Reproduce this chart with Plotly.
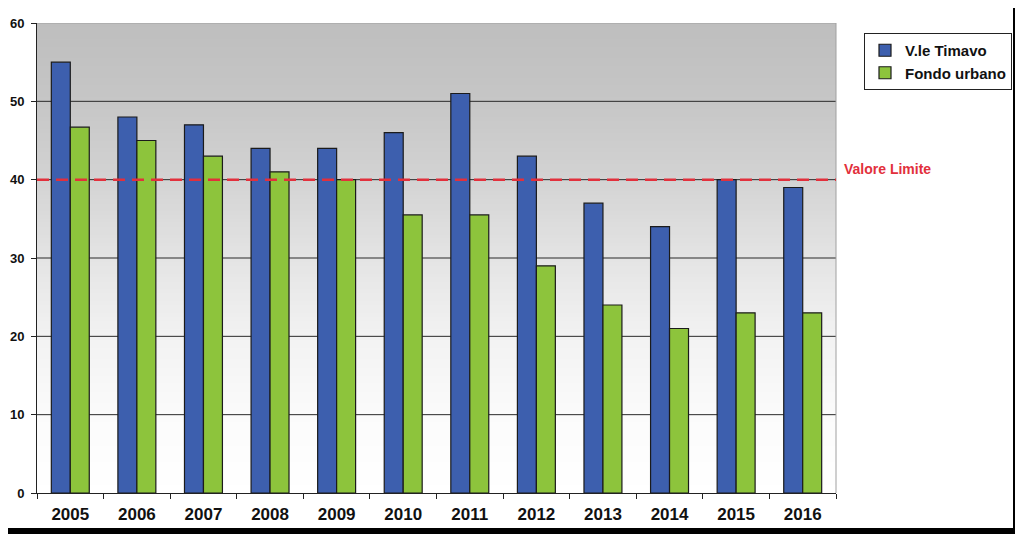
import plotly.graph_objects as go

years = ["2005", "2006", "2007", "2008", "2009", "2010", "2011", "2012", "2013", "2014", "2015", "2016"]
timavo = [55, 48, 47, 44, 44, 46, 51, 43, 37, 34, 40, 39]
fondo = [46.7, 45, 43, 41, 40, 35.5, 35.5, 29, 24, 21, 23, 23]
limite = 40
y_ticks = [0, 10, 20, 30, 40, 50, 60]

FONT = "Arial, 'Liberation Sans', sans-serif"

# page body has an 8px margin; figure sized so that it ends at the window edge
W, H = 1015, 526
L, T = 29, 15
PW, PH = 799, 470

fig = go.Figure()
fig.add_trace(go.Bar(x=years, y=timavo, name="V.le Timavo", legendgroup="a",
                     marker=dict(color="#3d5fae", line=dict(color="#1b1b1b", width=1.2))))
fig.add_trace(go.Bar(x=years, y=fondo, name="Fondo urbano", legendgroup="b",
                     marker=dict(color="#8dc43c", line=dict(color="#1b1b1b", width=1.2))))

shapes = []
stops = [(0, 255), (10, 251), (20, 242), (30, 228), (40, 211), (50, 198), (60, 190)]
def shade(v):
    for (a, ca), (b, cb) in zip(stops[:-1], stops[1:]):
        if a <= v <= b:
            return ca + (cb - ca) * (v - a) / (b - a)
    return stops[-1][1]
n = 120
for i in range(n):
    y0 = 60 * i / n
    y1 = min(60, 60 * (i + 1) / n + 0.3)
    c = int(round(shade(60 * (i + 0.5) / n)))
    shapes.append(dict(type="rect", xref="paper", yref="y", x0=0, x1=1, y0=y0, y1=y1,
                       fillcolor=f"rgb({c},{c},{c})", line=dict(width=0), layer="below"))
for t in y_ticks[1:-1]:
    shapes.append(dict(type="line", xref="paper", yref="y", x0=0, x1=1, y0=t, y1=t,
                       line=dict(color="#2a2a2a", width=1), layer="between"))
shapes.append(dict(type="line", xref="paper", yref="y", x0=0, x1=1, y0=60, y1=60,
                   line=dict(color="#a0a0a0", width=1), layer="between"))
shapes.append(dict(type="line", xref="paper", yref="paper", x0=1, x1=1, y0=0, y1=1,
                   line=dict(color="#a0a0a0", width=1), layer="between"))
shapes.append(dict(type="line", xref="paper", yref="y", x0=0, x1=1, y0=limite, y1=limite,
                   line=dict(color="#e2303c", width=2.5, dash="12px,7px"), layer="above"))
# black frame edges (right and bottom)
shapes.append(dict(type="rect", xref="paper", yref="paper", x0=(1005 - L) / PW, x1=(W + 20 - L) / PW,
                   y0=-0.3, y1=1.1, fillcolor="black", line=dict(width=0), layer="above"))
shapes.append(dict(type="rect", xref="paper", yref="paper", x0=-0.1, x1=(W + 20 - L) / PW,
                   y0=-(H + 20 - T - PH) / PH, y1=-(520 - T - PH) / PH,
                   fillcolor="black", line=dict(width=0), layer="above"))

fig.update_layout(
    width=W, height=H,
    margin=dict(l=L, r=W - L - PW, t=T, b=H - T - PH, pad=0, autoexpand=False),
    paper_bgcolor="white",
    plot_bgcolor="rgba(0,0,0,0)",
    barmode="group", bargap=0.43, bargroupgap=0,
    shapes=shapes,
    font=dict(family=FONT, color="#111"),
    showlegend=True,
    legend=dict(x=(864 - 8 - L) / PW, y=1 - (33 - 8 - T) / PH, xanchor="left", yanchor="top",
                bordercolor="#222", borderwidth=1, bgcolor="white",
                font=dict(family=FONT, size=15, color="#111", weight="bold"),
                itemwidth=30, tracegroupgap=2, traceorder="normal"),
    annotations=[dict(text="<b>Valore Limite</b>", xref="paper", yref="y", x=1.007, y=limite,
                      xanchor="left", yanchor="bottom", yshift=1, showarrow=False,
                      font=dict(family=FONT, size=14, color="#e2303c"))],
    xaxis=dict(type="category", showline=True, linecolor="#222", linewidth=1, automargin=False,
               ticks="outside", tickson="boundaries", ticklen=5, tickcolor="#222",
               tickfont=dict(family=FONT, size=17, color="#111", weight="bold"),
               ticklabelstandoff=6, showgrid=False),
    yaxis=dict(range=[0, 60], tickvals=y_ticks, showline=True, linecolor="#222", linewidth=1,
               automargin=False,
               ticks="outside", ticklen=5, tickcolor="#222", showgrid=False, zeroline=False,
               tickfont=dict(family=FONT, size=13, color="#111", weight="bold"),
               ticklabelstandoff=4),
)

fig.write_html("out.html")
